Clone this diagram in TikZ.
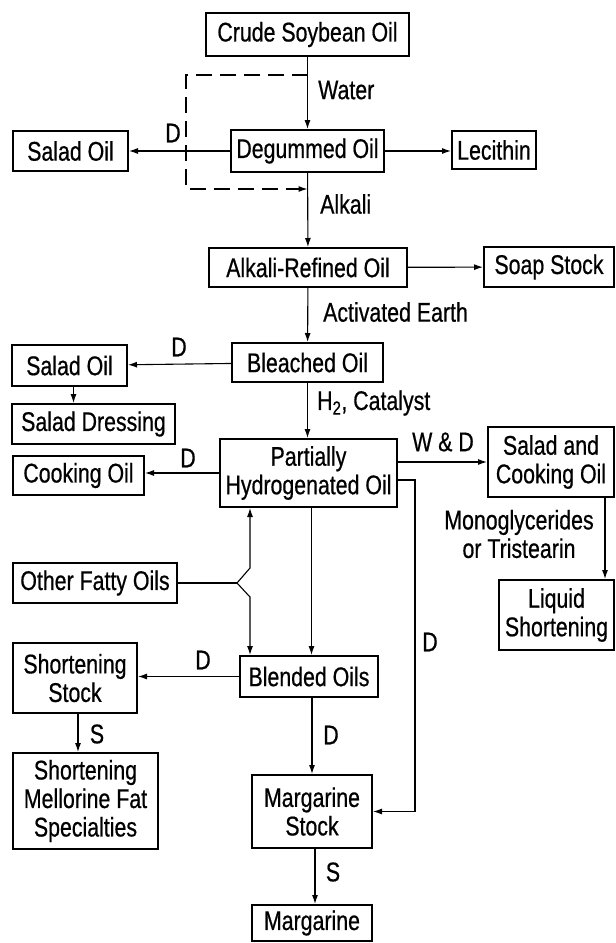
\documentclass[tikz,border=0pt]{standalone}
\usepackage{fontspec}
\setmainfont{Liberation Sans}[FakeStretch=0.79, FakeBold=0.6]
\usetikzlibrary{arrows.meta,positioning}

\begin{document}
\begin{tikzpicture}[x=1pt, y=-1pt,
    unit/.style={rectangle, draw, line width=2pt, inner sep=0pt, align=center,
                 font=\fontsize{27}{28.5}\selectfont},
    arrow/.style={-{Latex[length=9pt,width=6pt]}, line width=1.1pt},
    plain/.style={line width=1.1pt},
    dline/.style={line width=2pt, dash pattern=on 16pt off 8pt},
    tag/.style={inner sep=0pt, font=\fontsize{27}{28.5}\selectfont}
]
\useasboundingbox (0,0) rectangle (616,943);

% Main stream
\node[unit, minimum width=203pt, minimum height=43pt] (crude) at (307.5,34.5) {Crude Soybean Oil};
\node[unit, minimum width=153pt, minimum height=42pt] (degum) at (307.5,151) {Degummed Oil};
\node[unit, minimum width=198pt, minimum height=39pt] (alkali) at (308,267.5) {Alkali-Refined Oil};
\node[unit, minimum width=151pt, minimum height=39pt] (bleached) at (307.5,362.5) {Bleached Oil};
\node[unit, minimum width=177pt, minimum height=68pt] (partial) at (308.5,473) {Partially\\Hydrogenated Oil};
\node[unit, minimum width=138pt, minimum height=41pt] (blended) at (309,676.5) {Blended Oils};
\node[unit, minimum width=120pt, minimum height=73pt] (margstock) at (312,811.5) {Margarine\\Stock};
\node[unit, minimum width=120pt, minimum height=36pt] (margarine) at (312,923) {Margarine};

% Side products
\node[unit, minimum width=115pt, minimum height=40pt] (salad1) at (70.5,151) {Salad Oil};
\node[unit, minimum width=84pt, minimum height=38pt] (lecithin) at (494,150) {Lecithin};
\node[unit, minimum width=130pt, minimum height=40pt] (soap) at (549,267) {Soap Stock};
\node[unit, minimum width=115pt, minimum height=41pt] (salad2) at (69.5,365.5) {Salad Oil};
\node[unit, minimum width=163pt, minimum height=40pt] (dressing) at (93.5,424) {Salad Dressing};
\node[unit, minimum width=131pt, minimum height=39pt] (cooking) at (78.5,475.5) {Cooking Oil};
\node[unit, minimum width=126pt, minimum height=70pt] (saladcook) at (551,462) {Salad and\\Cooking Oil};
\node[unit, minimum width=115pt, minimum height=70pt] (liquid) at (556.5,615) {Liquid\\Shortening};
\node[unit, minimum width=164pt, minimum height=40pt] (otherfat) at (95,583) {Other Fatty Oils};
\node[unit, minimum width=124pt, minimum height=70pt] (shortstock) at (75,678) {Shortening\\Stock};
\node[unit, minimum width=145pt, minimum height=96pt] (mellorine) at (85.5,801) {Shortening\\Mellorine Fat\\Specialties};

% Helper points
\coordinate (dstart) at (308,75);
\coordinate (dend) at (307.5,189);
\coordinate (fork) at (237,583);
\coordinate (dcol) at (415,811.5);

% Arrows
\draw[arrow] (crude) -- (degum);
\draw[dline, arrow] (dstart) -| (186,189) -- (dend);
\draw[arrow] (degum) -- (salad1);
\draw[arrow] (degum.east) -- (lecithin.west |- degum.east);
\draw[arrow] (degum) -- (alkali);
\draw[arrow] (alkali) -- (soap);
\draw[arrow] (alkali) -- (bleached);
\draw[arrow] (bleached) -- (salad2);
\draw[arrow] ([xshift=4pt]salad2.south) -- ([xshift=4pt]salad2.south |- dressing.north);
\draw[arrow] (bleached.south) -- (bleached.south |- partial.north);
\draw[arrow] (partial.west) -- (cooking.east |- partial.west);
\draw[arrow] (partial.east |- saladcook.west) -- (saladcook.west);
\draw[arrow] ([xshift=-10pt]saladcook.south east) -- ([xshift=-10pt]saladcook.south east |- liquid.north);
\draw[arrow] ([yshift=-7pt]partial.east) -| (dcol) -- (margstock.east);
\draw[plain] (otherfat.east |- fork) -- (fork);
\draw[arrow] (fork) -- ++(13,-15) -- ([xshift=13pt]fork |- partial.south);
\draw[arrow] (fork) -- ++(13,14) -- ([xshift=13pt]fork |- blended.north);
\draw[arrow] ([xshift=3pt]partial.south) -- ([xshift=3pt]partial.south |- blended.north);
\draw[arrow] (blended.west) -- (shortstock.east |- blended.west);
\draw[arrow] ([xshift=3pt]shortstock.south) -- ([xshift=3pt]shortstock.south |- mellorine.north);
\draw[arrow] ([xshift=3pt]blended.south) -- ([xshift=3pt]blended.south |- margstock.north);
\draw[arrow] ([xshift=3pt]margstock.south) -- ([xshift=3pt]margstock.south |- margarine.north);

% Process labels
\node[tag, anchor=west] (water) at (318,90) {Water};
\node[tag, anchor=west] (alkalitag) at (320,204) {Alkali};
\node[tag, anchor=west] (earth) at (323,312) {Activated Earth};
\node[tag, anchor=west] (catalyst) at (317,403) {H\textsubscript{2}, Catalyst};
\node[tag] (wd) at (443,442) {W \& D};
\node[tag, align=center] (mono) at (519,534) {Monoglycerides\\or Tristearin};
\node[tag] (d1) at (173,133) {D};
\node[tag] (d2) at (179,347) {D};
\node[tag] (d3) at (188,458) {D};
\node[tag] (d4) at (430,642) {D};
\node[tag] (d5) at (203,660) {D};
\node[tag] (d6) at (331,735) {D};
\node[tag] (s1) at (97,734) {S};
\node[tag] (s2) at (333,872) {S};

\end{tikzpicture}
\end{document}
